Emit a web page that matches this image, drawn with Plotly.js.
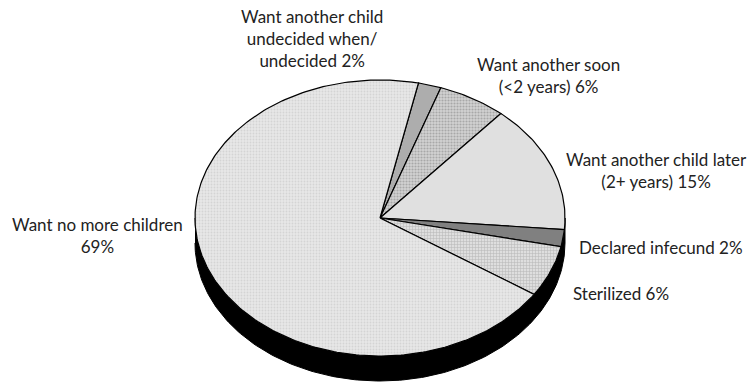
<!DOCTYPE html>
<html><head><meta charset="utf-8">
<script src="https://cdn.plot.ly/plotly-3.0.1.min.js"></script>
<style>html,body{margin:0;padding:0;background:#fff}#chart{width:751px;height:387px}</style>
</head><body><div id="chart"></div>
<script>
// Slices listed clockwise, starting from the top
const categories = ["Want another child undecided when/ undecided", "Want another soon (<2 years)", "Want another child later (2+ years)", "Declared infecund", "Sterilized", "Want no more children"];
const values = [2, 6, 15, 2, 6, 69];
const labelTexts = ["Want another child<br>undecided when/<br>undecided 2%", "Want another soon<br>(&lt;2 years) 6%", "Want another child later<br>(2+ years) 15%", "Declared infecund 2%", "Sterilized 6%", "Want no more children<br>69%"];

// styling / geometry (not data)
const fills = [
  {bg:'#d0d0d0', fg:'#808080', shape:'.', size:2, solidity:0.5},
  {bg:'#d2d2d2', fg:'#a8a8a8', shape:'.', size:3, solidity:0.4},
  null,
  null,
  {bg:'#dedede', fg:'#b4b4b4', shape:'+', size:3, solidity:0.3},
  {bg:'#e8e8e8', fg:'#d4d4d4', shape:'.', size:3, solidity:0.3}
];
const solid = ['#b8b8b8','#c6c6c6','#e0e0e0','#808080','#d2d2d2','#e4e4e4'];
const W = 751, H = 387, CX = 380, CY = 218, RX = 185, RY = 138, DEPTH = 25;
const startDeg = 78;
const depth = DEPTH / RY;

const traces = [];
// side (extrusion) of the lower half
const sx = [], sy = [];
for (let a = 180; a <= 360; a += 1) { const t = a*Math.PI/180; sx.push(Math.cos(t)); sy.push(Math.sin(t)); }
for (let a = 360; a >= 180; a -= 1) { const t = a*Math.PI/180; sx.push(Math.cos(t)); sy.push(Math.sin(t) - depth); }
traces.push({type:'scatter', mode:'lines', x:sx, y:sy, fill:'toself', fillcolor:'#000', line:{color:'#000', width:1}, hoverinfo:'skip'});

const total = values.reduce((a,b)=>a+b,0);
let cur = startDeg;
values.forEach((v,i) => {
  const span = v/total*360;
  const a0 = cur, a1 = cur - span;
  const xs = [0], ys = [0];
  const n = Math.max(4, Math.ceil(span));
  for (let k = 0; k <= n; k++) {
    const t = (a0 + (a1-a0)*k/n)*Math.PI/180;
    xs.push(Math.cos(t)); ys.push(Math.sin(t));
  }
  xs.push(0); ys.push(0);
  const tr = {type:'scatter', mode:'lines', x:xs, y:ys, fill:'toself', fillcolor: solid[i],
    line:{color:'#000', width:1.2}, name: categories[i], hoverinfo:'name'};
  if (fills[i]) tr.fillpattern = {shape: fills[i].shape, bgcolor: fills[i].bg, fgcolor: fills[i].fg, size: fills[i].size, solidity: fills[i].solidity};
  traces.push(tr);
  cur = a1;
});

const font = {family:'Lato, "Open Sans", sans-serif', size:17, color:'#222'};
const ann = [
  {x:312/W, y:1-39/H, text:labelTexts[0], align:'center'},
  {x:548/W, y:1-76/H, text:labelTexts[1], align:'center'},
  {x:656/W, y:1-170/H, text:labelTexts[2], align:'center'},
  {x:661/W, y:1-248/H, text:labelTexts[3], align:'center'},
  {x:621/W, y:1-293/H, text:labelTexts[4], align:'center'},
  {x:97/W, y:1-235/H, text:labelTexts[5], align:'center'}
].map(a => Object.assign({xref:'paper', yref:'paper', showarrow:false, xanchor:'center', yanchor:'middle', font}, a));

const layout = {
  width: W, height: H, margin:{l:0,r:0,t:0,b:0}, showlegend:false,
  paper_bgcolor:'#fff', plot_bgcolor:'#fff',
  xaxis:{range:[-CX/RX, (W-CX)/RX], visible:false, fixedrange:true},
  yaxis:{range:[-(H-CY)/RY, CY/RY], visible:false, fixedrange:true},
  annotations: ann
};
Plotly.newPlot('chart', traces, layout, {displayModeBar:false, staticPlot:true});
</script></body></html>
